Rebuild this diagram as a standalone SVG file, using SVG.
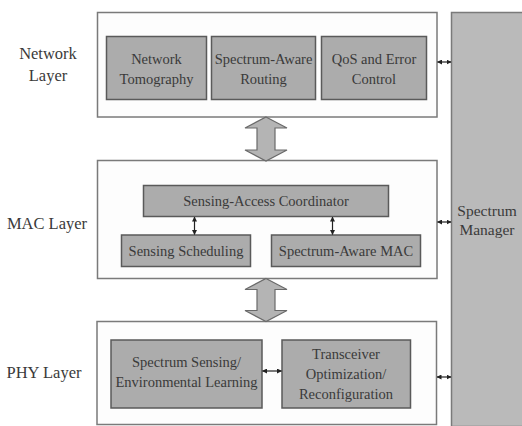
<svg xmlns="http://www.w3.org/2000/svg" width="522" height="426" viewBox="0 0 522 426">
<defs>
<style>
.layer{fill:#fdfdfd;stroke:#7a7a7a;stroke-width:1.5}
.box{fill:#acacac;stroke:#5a5a5a;stroke-width:1.5}
.mgr{fill:#bababa;stroke:#7a7a7a;stroke-width:1.5}
.big{fill:#b4b4b4;stroke:#6a6a6a;stroke-width:1.2}
.t{font-family:"Liberation Serif","Times New Roman",serif;font-size:14.5px;fill:#3a3a3a;text-anchor:middle}
.lab{font-family:"Liberation Serif","Times New Roman",serif;font-size:16.5px;fill:#3a3a3a;text-anchor:middle}
.c{stroke:#222;stroke-width:1.2;fill:none;marker-start:url(#ah);marker-end:url(#ah)}
</style>
<marker id="ah" viewBox="0 0 10 10" refX="9" refY="5" markerWidth="5" markerHeight="5" orient="auto-start-reverse" markerUnits="userSpaceOnUse">
<path d="M0,0 L10,5 L0,10 z" fill="#222"/>
</marker>
</defs>
<rect width="522" height="426" fill="#ffffff"/>

<g id="spectrum-manager">
<rect class="mgr" x="451.5" y="12.5" width="72" height="414"/>
<text class="lab" x="487" y="216" style="font-size:15.5px">Spectrum</text>
<text class="lab" x="487" y="235" style="font-size:15.5px">Manager</text>
</g>

<g id="network-layer">
<rect class="layer" x="97.5" y="12.5" width="339.5" height="104.5"/>
<text class="lab" x="48" y="59">Network</text>
<text class="lab" x="48" y="81">Layer</text>
</g>
<g id="network-tomography">
<rect class="box" x="106.5" y="36.5" width="100" height="63"/>
<text class="t" x="156.5" y="64">Network</text>
<text class="t" x="156.5" y="84">Tomography</text>
</g>
<g id="spectrum-aware-routing">
<rect class="box" x="211.5" y="36.5" width="104" height="63"/>
<text class="t" x="263.5" y="64">Spectrum-Aware</text>
<text class="t" x="263.5" y="84">Routing</text>
</g>
<g id="qos-error-control">
<rect class="box" x="321.5" y="36.5" width="105" height="63"/>
<text class="t" x="374" y="64">QoS and Error</text>
<text class="t" x="374" y="84">Control</text>
</g>

<g id="mac-layer">
<rect class="layer" x="97.5" y="160.5" width="339.5" height="118"/>
<text class="lab" x="47" y="229">MAC Layer</text>
</g>
<g id="sensing-access-coordinator">
<rect class="box" x="143.5" y="185.5" width="245" height="31"/>
<text class="t" x="266" y="206">Sensing-Access Coordinator</text>
</g>
<g id="sensing-scheduling">
<rect class="box" x="121.5" y="235" width="129" height="31.5"/>
<text class="t" x="186" y="256">Sensing Scheduling</text>
</g>
<g id="spectrum-aware-mac">
<rect class="box" x="271.5" y="235" width="149" height="31.5"/>
<text class="t" x="346" y="256">Spectrum-Aware MAC</text>
</g>

<g id="phy-layer">
<rect class="layer" x="97" y="321.5" width="339.5" height="103"/>
<text class="lab" x="44" y="378">PHY Layer</text>
</g>
<g id="spectrum-sensing">
<rect class="box" x="111" y="340" width="151" height="68"/>
<text class="t" x="186.5" y="367">Spectrum Sensing/</text>
<text class="t" x="186.5" y="387">Environmental Learning</text>
</g>
<g id="transceiver-optimization">
<rect class="box" x="282" y="340" width="128.5" height="68"/>
<text class="t" x="346" y="359">Transceiver</text>
<text class="t" x="346" y="379">Optimization/</text>
<text class="t" x="346" y="399">Reconfiguration</text>
</g>

<g id="connectors">
<path class="big" d="M266,117 L287,128 L275,128 L275,150 L287,150 L266,161 L245,150 L257,150 L257,128 L245,128 Z"/>
<path class="big" d="M266,278.5 L287,289.5 L275,289.5 L275,310.5 L287,310.5 L266,321.5 L245,310.5 L257,310.5 L257,289.5 L245,289.5 Z"/>
<line class="c" x1="437.5" y1="62" x2="451" y2="62"/>
<line class="c" x1="437.5" y1="222" x2="451" y2="222"/>
<line class="c" x1="437" y1="377" x2="451" y2="377"/>
<line class="c" x1="194.5" y1="217" x2="194.5" y2="234.5"/>
<line class="c" x1="332.5" y1="217" x2="332.5" y2="234.5"/>
<line class="c" x1="262.5" y1="371" x2="281.5" y2="371"/>
</g>
</svg>
